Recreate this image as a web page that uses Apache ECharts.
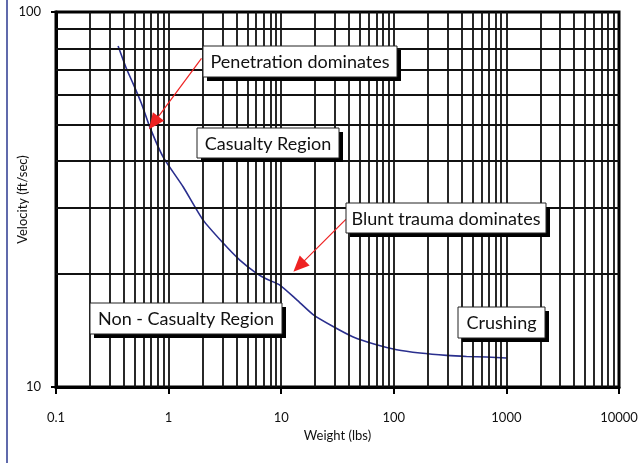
<!DOCTYPE html>
<html>
<head>
<meta charset="utf-8">
<script src="https://cdn.jsdelivr.net/npm/echarts@6/dist/echarts.min.js"></script>
<style>
  html, body { margin: 0; padding: 0; background: #fff; }
  #chart { width: 638px; height: 463px; }
</style>
</head>
<body>
<div id="chart"></div>
<script>
// Casualty threshold curve: impact velocity against debris weight
const weightLbs = [0.356, 0.422, 0.483, 0.574, 0.680, 0.893, 1.345, 2.02, 3.05, 4.29, 6.04, 7.41, 9.72, 13.7, 19.2, 28.9, 43.6, 70.3, 106, 171, 294, 443, 667, 1000];
const velocityFps = [81.2, 70.7, 64.5, 57.0, 49.4, 41.1, 34.2, 27.9, 24.2, 21.8, 20.1, 19.4, 18.7, 17.1, 15.6, 14.5, 13.6, 12.96, 12.57, 12.32, 12.14, 12.06, 12.02, 11.95];

// Axis tick labels
const xTickLabels = ['0.1', '1', '10', '100', '1000', '10000'];
const yTickLabels = ['10', '100'];

// Log-cycle grid values (1..9 within each decade)
const xDecades = [0.1, 1, 10, 100, 1000];
const yDecades = [10];
const multipliers = [1, 2, 3, 4, 5, 6, 7, 8, 9];

// Annotation arrows: [from, to] in data units (weight, velocity)
const arrowPenetration = [[1.96, 75.2], [0.738, 50.6]];
const arrowBlunt = [[37.5, 28.0], [14.4, 21.0]];

const FONT = 'Lato, "Open Sans", sans-serif';

const xGrid = [];
xDecades.forEach(d => multipliers.forEach(m => { const v = +(d * m).toPrecision(3); if (v > 0.1) xGrid.push(v); }));
const yGrid = [];
yDecades.forEach(d => multipliers.forEach(m => { const v = d * m; if (v > 10) yGrid.push(v); }));

const gridLineData = xGrid.map(v => ({ xAxis: v })).concat(yGrid.map(v => ({ yAxis: v })));

function labelBox(x, y, w, h, text, size) {
  return {
    type: 'group',
    children: [
      { type: 'rect', z: 100, shape: { x: x + 4, y: y + 4, width: w, height: h }, style: { fill: '#000' } },
      { type: 'rect', z: 101, shape: { x: x, y: y, width: w, height: h }, style: { fill: '#fff', stroke: '#222', lineWidth: 1 } },
      { type: 'text', z: 102, x: x + w / 2, y: y + h / 2 + 1, style: { text: text, font: size + 'px ' + FONT, fill: '#111', align: 'center', verticalAlign: 'middle' } }
    ]
  };
}

const chart = echarts.init(document.getElementById('chart'), null, { renderer: 'canvas' });

const curve = weightLbs.map((w, i) => [w, velocityFps[i]]);

chart.setOption({
  animation: false,
  backgroundColor: '#fff',
  grid: { left: 56, right: 19, top: 12, bottom: 76, containLabel: false, outerBoundsMode: 'none',
    show: true, borderColor: '#000', borderWidth: 3, backgroundColor: 'transparent' },
  xAxis: {
    type: 'log', logBase: 10, min: 0.1, max: 10000,
    name: 'Weight (lbs)', nameLocation: 'middle', nameGap: 42, nameMoveOverlap: false,
    nameTextStyle: { fontFamily: FONT, fontSize: 13, color: '#111' },
    axisLine: { lineStyle: { color: '#000', width: 3 } },
    axisTick: { show: true, length: 7, lineStyle: { color: '#000', width: 2 } },
    axisLabel: { margin: 24, fontFamily: FONT, fontSize: 13, color: '#111',
      formatter: (v, i) => xTickLabels[i] },
    splitLine: { show: false }
  },
  yAxis: {
    type: 'log', logBase: 10, min: 10, max: 100,
    name: 'Velocity (ft/sec)', nameLocation: 'middle', nameGap: 27, nameMoveOverlap: false,
    nameTextStyle: { fontFamily: FONT, fontSize: 13, color: '#111' },
    axisLine: { lineStyle: { color: '#000', width: 3 } },
    axisTick: { show: true, length: 5, lineStyle: { color: '#000', width: 2 } },
    axisLabel: { margin: 15, fontFamily: FONT, fontSize: 13, color: '#111',
      formatter: (v, i) => yTickLabels[i] },
    splitLine: { show: false }
  },
  series: [
    {
      // log-cycle grid
      type: 'line', data: curve, z: 1, silent: true, showSymbol: false,
      lineStyle: { opacity: 0 },
      markLine: {
        silent: true, symbol: ['none', 'none'], label: { show: false },
        lineStyle: { color: '#111', width: 1.8, type: 'solid' },
        emphasis: { disabled: true },
        data: gridLineData
      }
    },
    {
      type: 'line', data: curve, z: 3, showSymbol: false, smooth: 0.2,
      lineStyle: { color: '#2a2f8e', width: 1.6 },
      markLine: {
        silent: true, symbol: ['none', 'triangle'], symbolSize: [14, 16],
        label: { show: false },
        lineStyle: { color: '#ee2222', width: 1.2, type: 'solid' },
        itemStyle: { color: '#ee2222' },
        emphasis: { disabled: true },
        data: [
          [{ coord: arrowPenetration[0] }, { coord: arrowPenetration[1] }],
          [{ coord: arrowBlunt[0] }, { coord: arrowBlunt[1] }]
        ]
      }
    }
  ],
  graphic: [
    { type: 'line', z: 100, shape: { x1: 7, y1: 0, x2: 7, y2: 463 }, style: { stroke: '#2b3990', lineWidth: 1.5 } },
    labelBox(203, 46, 194, 31, 'Penetration dominates', 18),
    labelBox(197, 128, 142, 30, 'Casualty Region', 18),
    labelBox(346, 203, 200, 30, 'Blunt trauma dominates', 18),
    labelBox(458, 307, 87, 31, 'Crushing', 18),
    labelBox(90, 303, 192, 31, 'Non - Casualty Region', 18)
  ]
});
</script>
</body>
</html>
